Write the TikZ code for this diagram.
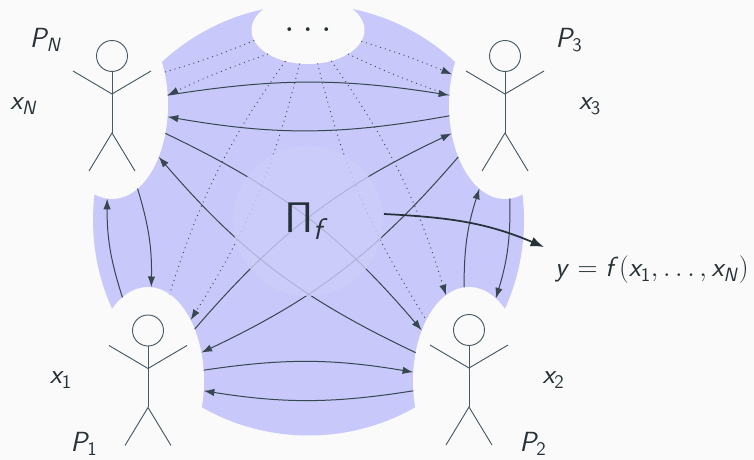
\documentclass[tikz,border=0pt]{standalone}
\usepackage{amsmath}
\usepackage{tikz}
\usetikzlibrary{arrows.meta, shapes.geometric, backgrounds}
\definecolor{mpage}{HTML}{FAFAFA}
\definecolor{mdisc}{HTML}{C8C8FA}
\definecolor{mcore}{HTML}{CDCDFB}
\definecolor{mink}{HTML}{263238}
\definecolor{mline}{HTML}{37474F}
\definecolor{mbody}{HTML}{455A64}
\DeclareMathAlphabet{\mathsfit}{OT1}{cmss}{m}{sl}
\DeclareMathAlphabet{\mathsfup}{OT1}{cmss}{m}{n}
\newcommand{\vx}[1]{\mathsfit{x}_{#1}}
\newcommand{\vP}[1]{\mathsfit{P}_{#1}}
\tikzset{
  gap/.style={ellipse, fill=mpage, inner sep=0pt, outer sep=0pt,
              minimum width=84pt, minimum height=141pt},
  dotsgap/.style={ellipse, fill=mpage, inner sep=0pt, outer sep=0pt,
                  minimum width=84.75pt, minimum height=51pt},
  lbl/.style={text=mink, inner sep=0pt, font=\fontsize{20}{24}\selectfont},
  arr/.style={-{Latex[length=8pt,width=5.5pt]}, mline, line width=0.75pt},
  darr/.style={-{Latex[length=8pt,width=5.5pt]}, mline, line width=0.7pt, dash pattern=on 0.7pt off 3pt},
  dplain/.style={mline, line width=0.7pt, dash pattern=on 0.7pt off 3pt},
  outarr/.style={-{Latex[length=10pt,width=7.5pt]}, mink, line width=1.3pt},
  actor/.pic={
    \draw[mbody, line width=0.7pt] (0,0) circle (15.5);
    \draw[mbody, line width=0.7pt] (0,-15.5) -- (0,-77);
    \draw[mbody, line width=0.7pt] (-39,-15) -- (0,-38) -- (39,-15);
    \draw[mbody, line width=0.7pt] (-23,-115) -- (0,-77) -- (23,-115);
  },
}
\begin{document}
\begin{tikzpicture}[x=0.75pt, y=0.75pt]
  \useasboundingbox (0,0) rectangle (754,460);
  \fill[mpage] (0,0) rectangle (754,460);
  \fill[mdisc] (308.5,240) circle (215.5);

  % parties
  \node[gap] (pN) at (112,355) {};
  \node[gap] (p3) at (505,355) {};
  \node[gap] (p1) at (148,79) {};
  \node[gap] (p2) at (469,79) {};
  \node[dotsgap] (pdots) at (308,430) {};

  % to and from the dots
  \draw[dplain] (pdots.191) to[bend left=3] (pN.32);
  \draw[darr] (pdots.211) to[bend right=3] (pN.10);
  \draw[dplain] (pdots.234) to[bend right=9] (p1.76);
  \draw[darr] (pdots.256) to[bend left=9] (p1.55);
  \draw[dplain] (pdots.286) to[bend right=9] (p2.125);
  \draw[darr] (pdots.307) to[bend left=9] (p2.105);
  \draw[darr] (pdots.348) to[bend left=3] (p3.150);
  \draw[dplain] (pdots.329) to[bend right=3] (p3.170);

  % long ones
  \draw[arr] (pN.-28) to[bend left=12] (p2.133);
  \draw[arr] (p2.152) to[bend left=12] (pN.-48);
  \draw[arr] (p1.48) to[bend left=12] (p3.208);
  \draw[arr] (p3.228) to[bend left=12] (p1.28);

  % neighbours
  \draw[arr] (pN.10) to[bend left=9] (p3.170);
  \draw[arr] (p3.191) to[bend left=10] (pN.-12);
  \draw[arr] (p1.11) to[bend left=9] (p2.171);
  \draw[arr] (p2.190) to[bend left=9] (p1.-10);
  \draw[arr] (pN.-73) to[bend left=9] (p1.88);
  \draw[arr] (p1.107) to[bend left=9] (pN.-93);
  \draw[arr] (p2.93) to[bend left=9] (p3.253);
  \draw[arr] (p3.273) to[bend left=9] (p2.72);

  % function in the middle, laid over the lines
  \node[circle, fill=mcore, fill opacity=0.8, minimum size=112.5pt, inner sep=0pt] (core) at (308,239) {};
  \node[lbl, scale=1.55] (pif) at (307,239) {$\mathsfup{\Pi}_{\mathsfit{f}}$};

  % figures
  \foreach \name/\hx/\hy in {a/112/404, b/505/404, c/148/129.5, d/469/130}
    \pic (\name) at (\hx,\hy) {actor};

  % labels
  \node[lbl] (lpN) at (46,420) {$\vP{\mathsfit{N}}$};
  \node[lbl] (lxN) at (24,354) {$\vx{\mathsfit{N}}$};
  \node[lbl] (lp3) at (569,420) {$\vP{\mathsfup{3}}$};
  \node[lbl] (lx3) at (590,354) {$\vx{\mathsfup{3}}$};
  \node[lbl] (lx1) at (61,80) {$\vx{\mathsfup{1}}$};
  \node[lbl] (lp1) at (84,16) {$\vP{\mathsfup{1}}$};
  \node[lbl] (lx2) at (553.5,80) {$\vx{\mathsfup{2}}$};
  \node[lbl] (lp2) at (533,16) {$\vP{\mathsfup{2}}$};
  \node[lbl, scale=1.4] (ldots) at (308,430) {$\mathsfup{.}\mkern3.7mu\mathsfup{.}\mkern3.7mu\mathsfup{.}$};

  % result
  \node[lbl] (res) at (652,190) {$\mathsfit{y}\mathrel{\mathsfup{=}}\mathsfit{f}\mathsfup{(}\vx{\mathsfup{1}}\mathsfup{,}\,\mathsfup{.}\,\mathsfup{.}\,\mathsfup{.}\,\mathsfup{,}\,\vx{\mathsfit{N}}\mathsfup{)}$};
  \coordinate (outstart) at (384,246);
  \coordinate (outend) at (544,213);
  \draw[outarr] (outstart) to[out=-3, in=157] (outend);
\end{tikzpicture}
\end{document}
